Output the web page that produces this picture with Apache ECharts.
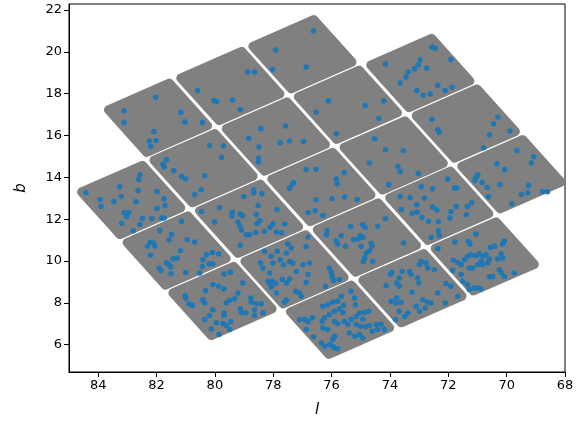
<!DOCTYPE html>
<html><head><meta charset="utf-8">
<script src="https://cdn.jsdelivr.net/npm/echarts@6/dist/echarts.min.js"></script>
<style>html,body{margin:0;padding:0;background:#fff}#c{width:587px;height:423px}</style>
</head><body><div id="c"></div>
<script>
// Module (footprint tile) centres in (l, b)
const tileL = [81.95,79.47,77.00, 82.87,80.39,77.91,75.44,72.96, 81.31,78.83,76.35,73.87,71.40, 79.74,77.27,74.79,72.31,69.84, 75.71,73.23,70.75];
const tileB = [16.85,18.37,19.89, 12.92,14.44,15.95,17.47,18.99, 10.50,12.02,13.54,15.05,16.57, 8.09,9.60,11.12,12.64,14.15, 7.19,8.70,10.22];
// Corner offsets of a tile relative to its centre (l, b)
const cornerDL = [1.700,-0.386,-1.700,0.386];
const cornerDB = [0.379,1.656,-0.379,-1.656];
// Tick labels
const xTicks = [68,70,72,74,76,78,80,82,84];
const yTicks = [6,8,10,12,14,16,18,20,22];
// Blue points [l, b]
const points = [
[82.03,17.83],[83.11,17.18],[81.17,17.10],[83.11,16.62],[81.03,16.65],[82.09,16.19],[82.25,15.74],[82.02,15.76],[82.20,15.47],
[76.62,21.00],[77.92,20.09],[78.02,19.17],[76.87,19.28],[78.88,19.04],[78.64,19.04],[80.59,18.15],[80.04,17.67],[79.94,17.61],[79.39,17.70],[79.13,17.23],[80.43,16.62],[76.53,17.13],[77.58,16.46],
[72.56,20.23],[72.45,20.17],[74.16,19.42],[72.97,19.61],[73.03,19.37],[73.16,19.18],[73.38,19.04],[73.45,18.80],[72.74,19.22],[73.65,18.51],[72.36,18.40],[72.11,18.15],[73.08,18.15],[72.86,17.93],[72.62,17.98],[76.11,17.65],[74.85,17.42],[74.21,17.65],[74.38,16.81],[72.56,16.78],
[71.91,19.65],[71.87,18.31],[70.30,16.88],[70.45,16.56],
[81.66,14.84],[81.78,14.63],[81.74,14.49],[81.41,14.31],[81.14,14.04],[82.57,14.12],[82.61,13.88],[83.26,13.55],[84.42,13.26],[83.93,12.94],[83.90,12.61],[83.46,12.83],[83.21,13.08],[82.63,13.37],[82.70,12.83],[81.98,13.32],[81.74,12.98],[81.71,12.65],[81.98,12.51],[83.11,12.32],[82.95,12.32],[83.03,12.13],[82.48,12.03],[82.16,12.03],[81.82,12.06],[81.74,12.06],[83.19,11.80],[82.57,11.75],[82.80,11.45],[81.89,11.45],[81.48,11.27],[81.57,11.02],[81.14,11.89],[80.95,11.02],[82.21,10.89],[82.10,10.86],[82.31,10.70],[82.06,10.70],
[78.43,16.32],[78.84,15.87],[77.76,15.66],[77.44,15.74],[76.96,15.71],[80.18,15.52],[79.70,15.50],[78.49,15.45],[79.77,14.95],[78.51,14.93],[78.50,14.73],[76.87,14.37],[76.53,14.39],[81.00,13.92],[80.35,14.07],[80.47,13.41],[80.69,13.18],[77.30,13.75],[77.36,13.63],[77.44,13.47],[78.67,13.41],[78.67,13.25],[78.39,13.21],[79.01,13.08],[76.53,12.93],[79.84,12.56],[78.52,12.65],[77.87,12.45],[80.45,12.37],[79.40,12.32],[79.42,12.15],[79.13,12.25],[79.04,12.16],[78.58,12.21],[76.80,12.32],[80.01,11.86],[78.46,11.94],[78.56,11.78],[79.21,11.86],[79.15,11.68],[79.09,11.48],[78.01,11.77],[77.61,11.77],[78.11,11.61],[78.31,11.41],[77.89,11.38],[77.71,11.34],[78.92,11.26],[78.81,11.26],[78.60,11.36],[76.81,11.15],[80.69,10.91],[79.13,10.75],[77.50,10.81],[77.38,10.62],[76.87,10.68],
[75.84,16.08],[74.53,15.84],[74.15,15.32],[73.54,15.27],[72.36,16.27],[72.31,16.14],[74.70,14.68],[73.73,14.52],[73.65,14.28],[73.03,14.18],[75.57,14.23],[75.84,13.92],[75.81,13.69],[72.02,13.92],[74.04,13.64],[72.93,13.55],[72.54,13.45],[75.98,12.98],[75.55,13.06],[75.12,12.94],[73.65,13.08],[73.31,13.04],[72.82,13.01],[73.08,12.69],[72.54,12.58],[76.56,12.40],[76.30,12.18],[73.61,12.45],[73.24,12.27],[73.07,12.34],[72.39,12.44],[74.15,12.02],[72.90,12.08],[72.68,11.89],[72.34,11.89],[75.35,11.65],[74.93,11.73],[74.85,11.60],[74.42,11.65],[76.15,11.45],[76.18,11.26],[75.67,11.21],[72.34,11.45],[72.31,11.22],[72.59,11.14],[75.01,11.22],[74.93,11.13],[75.25,11.02],[75.09,11.05],[75.84,10.94],[75.79,10.81],[75.53,10.70],[74.64,10.84],[74.62,10.70],[74.99,10.70],[73.53,10.86],[72.36,10.59],
[69.89,16.22],[70.59,16.03],[70.79,15.41],[69.65,15.28],[69.07,14.99],[69.15,14.69],[70.33,14.65],[70.07,14.37],[70.99,14.12],[71.05,13.99],[71.09,13.85],[70.84,13.75],[70.67,13.51],[70.23,13.64],[69.25,13.61],[69.27,13.26],[69.49,13.18],[68.77,13.32],[68.60,13.31],[70.62,13.07],[69.83,12.74],[71.79,13.49],[71.71,13.49],[71.73,12.61],[71.34,12.61],[71.20,12.78],[71.38,12.21],[71.91,12.37],[71.94,12.05],[71.05,11.29],[71.77,10.91],[71.31,10.94],[71.26,10.81],[70.56,10.65],[70.42,10.70],[70.14,10.81],[70.08,10.94],
[82.21,10.27],[81.91,9.66],[81.85,9.55],[81.66,9.90],[81.57,9.82],[81.51,9.71],[81.43,10.11],[81.30,10.14],[81.18,10.49],[81.50,9.39],[81.00,9.45],[81.02,8.34],[81.00,8.23],[80.89,7.96],
[80.29,10.30],[80.09,10.41],[79.87,10.33],[80.41,10.06],[80.20,9.87],[80.07,9.87],[80.43,9.74],[80.52,9.43],[79.69,9.38],[79.47,9.46],[80.07,8.87],[79.87,8.79],[79.69,8.66],[79.04,8.95],[79.21,8.47],[80.32,8.59],[80.41,8.15],[80.35,7.99],[79.49,8.12],[79.61,7.99],[79.32,8.19],[78.77,8.23],[78.75,8.02],[78.58,7.96],[78.41,7.96],[80.77,7.87],[79.13,7.71],[79.09,7.54],[78.94,7.51],[78.64,7.67],[78.64,7.39],[78.35,7.51],[80.07,7.67],[80.18,7.39],[79.69,7.51],[79.69,7.39],[80.35,7.20],[79.95,7.04],[79.46,7.11],[79.72,7.01],[79.61,6.91],[80.12,6.75],[79.86,6.48],[79.49,6.72],
[78.30,10.46],[78.07,10.22],[77.86,10.46],[78.44,9.90],[78.35,9.66],[78.01,9.90],[77.76,10.06],[77.64,9.82],[77.44,9.98],[77.55,10.38],[78.12,9.43],[78.03,9.03],[78.12,8.95],[77.92,8.92],[77.69,9.11],[77.55,8.95],[77.44,9.14],[77.89,8.47],[78.07,8.76],[78.18,9.03],[77.23,8.55],[77.10,8.47],[77.04,8.31],[76.87,8.98],[77.55,8.15],[77.61,8.02],[77.33,9.90],[76.98,9.82],[76.76,9.90],[77.21,9.50],[76.81,9.35],
[77.10,7.20],[76.93,7.20],[76.87,6.72],[76.81,7.11],[76.66,7.28],[76.62,6.37],
[76.07,9.66],[76.01,9.45],[75.98,9.26],[75.93,9.07],[75.73,9.11],[76.21,8.78],[74.87,10.14],[74.81,10.38],[74.70,10.49],[74.91,9.98],[74.59,9.98],
[75.67,8.31],[75.79,8.07],[75.96,8.02],[76.13,7.91],[76.30,7.83],[75.33,8.55],[75.21,8.23],[75.18,7.91],[75.59,7.87],[75.73,7.71],[75.61,7.54],[75.90,7.59],[76.07,7.44],[76.24,7.28],[76.32,7.11],[76.30,6.80],[76.13,6.72],[75.90,7.11],[75.79,7.01],[75.56,7.11],[75.44,6.96],[75.33,7.20],[75.16,7.35],[75.04,7.51],[74.87,7.54],[74.73,7.59],[74.93,7.23],[75.16,6.96],[75.01,6.88],[74.84,6.85],[74.70,6.91],[74.47,6.96],[74.42,6.72],[74.61,6.64],[75.04,6.48],[74.93,6.32],[75.21,6.40],[75.39,6.56],[75.90,6.40],[75.96,6.24],[76.07,6.00],[76.24,5.92],[75.90,5.84],[75.79,5.80],[75.96,5.92],[74.19,6.72],[74.30,6.96],[76.35,6.08],
[73.99,9.35],[73.93,9.46],[73.68,9.19],[73.58,9.50],[73.33,9.50],[73.27,9.35],[72.99,9.82],[72.93,9.98],[72.76,9.90],[72.71,9.66],[72.48,9.58],[73.05,9.19],[73.01,8.95],[73.77,8.95],[73.68,8.79],[74.13,8.82],[73.24,8.50],[72.36,8.47],[72.08,8.92],[73.96,8.07],[73.79,7.99],[73.62,8.02],[73.77,8.23],[73.68,7.59],[73.50,7.35],[73.39,7.51],[73.81,7.20],[73.10,7.83],[72.99,7.59],[72.79,7.75],[72.71,8.02],[72.59,7.99],[72.88,8.15],[72.10,7.99],
[71.83,10.03],[71.68,9.93],[71.56,9.82],[71.45,10.06],[71.34,10.22],[71.22,10.30],[71.05,10.25],[70.94,10.35],[70.82,10.22],[70.71,10.30],[70.59,10.09],[70.88,9.98],[70.99,9.82],[71.17,9.66],[70.82,9.82],[70.19,10.35],[70.14,10.14],[70.31,10.09],[70.65,9.90],[71.85,9.55],[71.56,9.35],[71.28,9.66],[70.25,9.58],[70.19,9.45],[70.08,9.26],[69.74,9.43],[70.59,9.24],[70.48,9.24],[71.51,9.03],[71.34,8.87],[71.28,8.63],[71.11,8.71],[70.99,8.71],[70.88,8.66],[71.68,8.31],[71.91,8.79]
];

const chart = echarts.init(document.getElementById('c'), null, {renderer: 'canvas'});
const tiles = tileL.map((l, i) => [l, tileB[i]]);
const font = 'DejaVu Sans';
chart.setOption({
  animation: false,
  grid: {left: 69, top: 4, width: 496, height: 368, show: true, borderColor: '#000', borderWidth: 1, backgroundColor: 'transparent'},
  xAxis: {
    type: 'value', min: 68, max: 85, inverse: true,
    name: 'l', nameLocation: 'middle', nameGap: 31,
    nameTextStyle: {fontFamily: font, fontStyle: 'italic', fontSize: 15, color: '#000'},
    axisLine: {show: true, lineStyle: {color: '#000', width: 1}},
    axisTick: {show: true, inside: false, length: 5, lineStyle: {color: '#000'}, customValues: xTicks},
    axisLabel: {show: true, margin: 7, fontFamily: font, fontSize: 13, color: '#000', customValues: xTicks},
    splitLine: {show: false}
  },
  yAxis: {
    type: 'value', min: 4.69, max: 22.29,
    name: 'b', nameLocation: 'middle', nameGap: 40,
    nameTextStyle: {fontFamily: font, fontStyle: 'italic', fontSize: 15, color: '#000'},
    axisLine: {show: true, lineStyle: {color: '#000', width: 1}},
    axisTick: {show: true, inside: false, length: 5, lineStyle: {color: '#000'}, customValues: yTicks},
    axisLabel: {show: true, margin: 7, fontFamily: font, fontSize: 13, color: '#000', customValues: yTicks},
    splitLine: {show: false}
  },
  series: [
    {
      type: 'custom', z: 1, clip: true,
      data: tiles,
      encode: {x: 0, y: 1},
      renderItem: function (params, api) {
        const cl = api.value(0), cb = api.value(1);
        const pts = cornerDL.map((d, k) => api.coord([cl + d, cb + cornerDB[k]]));
        return {
          type: 'polygon',
          shape: {points: pts},
          style: {fill: '#808080', stroke: '#808080', lineWidth: 9, lineJoin: 'round'}
        };
      }
    },
    {
      type: 'scatter', z: 2,
      data: points,
      symbol: 'circle', symbolSize: 5.5,
      itemStyle: {color: '#1f77b4', opacity: 1},
      emphasis: {disabled: true}
    }
  ]
});
</script></body></html>
